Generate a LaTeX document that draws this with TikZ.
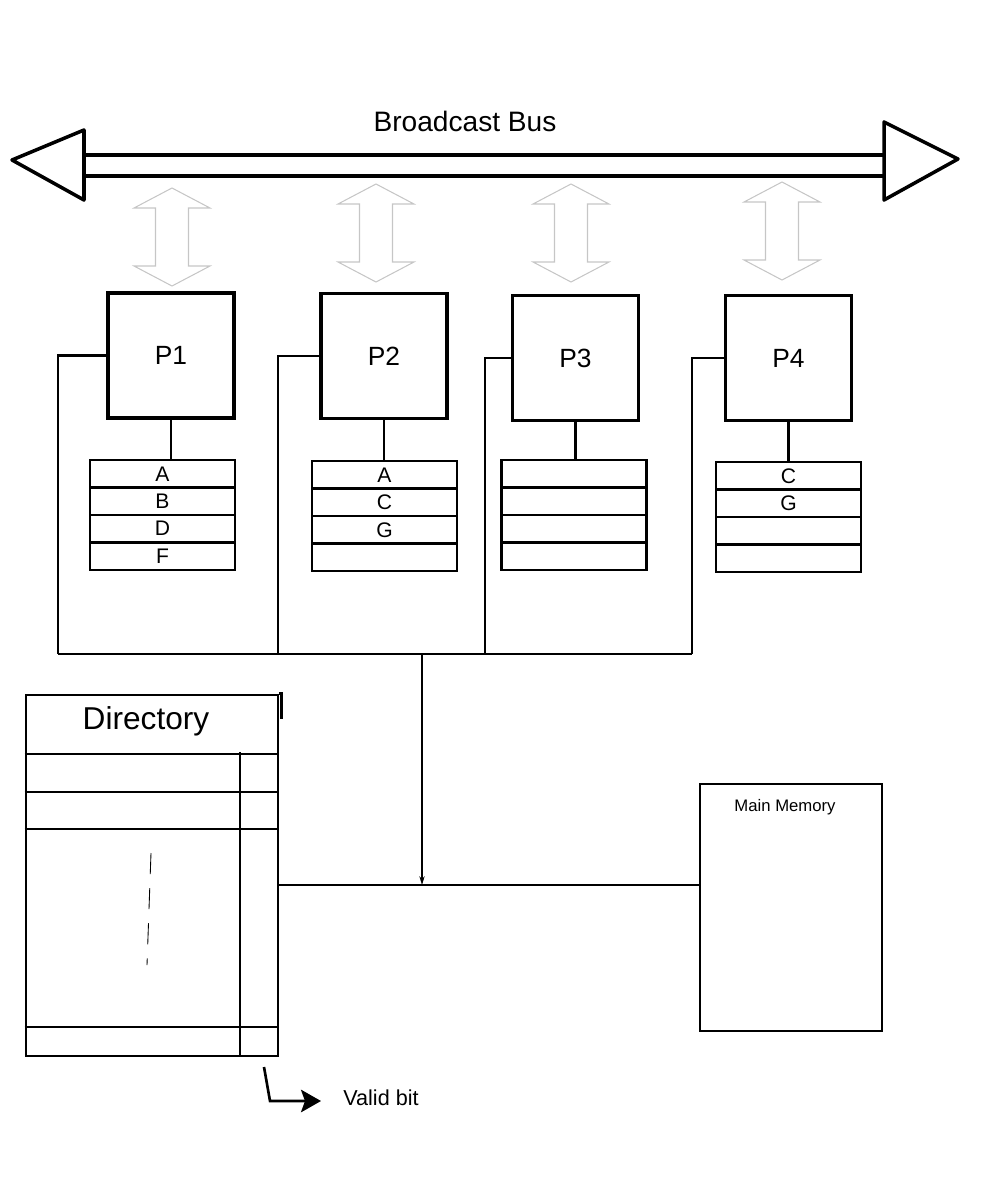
\documentclass[tikz,border=0pt]{standalone}
\usepackage{fontspec}
\setmainfont{Liberation Sans}
\usetikzlibrary{arrows.meta,positioning}

\tikzset{
  proc/.style={draw, line width=1.8pt, minimum width=2.52cm, minimum height=2.5cm,
    font=\fontsize{15}{18}\selectfont},
  cell/.style={draw, line width=1.4pt, minimum width=2.9cm, minimum height=0.55cm,
    inner sep=0pt, outer sep=0pt, font=\fontsize{12}{14}\selectfont},
  wire/.style={line width=1.5pt},
  pics/duplex/.style={code={
    \draw[gray!45, line width=0.6pt] (0,0) -- ++(-38,20) -- ++(21.5,0) -- ++(0,58)
      -- ++(-21.5,0) -- ++(38,20) -- ++(38,-20) -- ++(-21.5,0) -- ++(0,-58)
      -- ++(21.5,0) -- cycle;
  }}
}

\begin{document}
\begin{tikzpicture}[x=0.02cm, y=-0.02cm]
  \useasboundingbox (0,0) rectangle (1000,1183);

  % broadcast bus
  \node[font=\fontsize{16}{19}\selectfont] (bustitle) at (465,121) {Broadcast Bus};
  \draw[line width=2pt] (84,155) -- (884,155);
  \draw[line width=2pt] (84,176) -- (884,176);
  \draw[line width=2pt, line join=round] (84,130) -- (12,160) -- (84,200) -- cycle;
  \draw[line width=2pt, line join=round] (884,122) -- (958,159) -- (884,200) -- cycle;

  % processors
  \node[proc] (p1) at (171,355.5) {P1};
  \node[proc] (p2) at (384,356) {P2};
  \node[proc] (p3) at (575.5,358) {P3};
  \node[proc] (p4) at (788.5,358) {P4};

  \pic at (172,188) {duplex};
  \pic at (376,184) {duplex};
  \pic at (571,184) {duplex};
  \pic at (782,182) {duplex};

  % caches
  \foreach \i/\x/\y/\la/\lb/\lc/\ld in {1/162.5/460/A/B/D/F, 2/384.5/461/A/C/G/,
      3/574/460///, 4/788.5/462/C/G//}{
    \node[cell, anchor=north] (c\i-a) at (\x,\y) {\la};
    \node[cell, below=0pt of c\i-a] (c\i-b) {\lb};
    \node[cell, below=0pt of c\i-b] (c\i-c) {\lc};
    \node[cell, below=0pt of c\i-c] (c\i-d) {\ld};
    \draw[wire] (p\i.south) -- (p\i.south |- c\i-a.north);
  }

  % shared bus
  \coordinate (j1) at (58,654);
  \coordinate (j2) at (278,654);
  \coordinate (j3) at (485,654);
  \coordinate (j4) at (692,654);
  \coordinate (tap) at (422,654);
  \coordinate (mid) at (422,885);
  \foreach \i in {1,...,4}
    \draw[wire] (p\i.west) -| (j\i);
  \draw[wire] (j1) -- (j4);
  \draw[wire, -{Stealth[length=5pt, width=3pt]}] (tap) -- (mid);

  % directory
  \node[draw, wire, minimum width=5.04cm, minimum height=7.22cm] (dir) at (152,875.5) {};
  \node[font=\fontsize{18}{21}\selectfont] (dirtitle) at (146,721) {Directory};
  \foreach \r in {754,792,829,1027}
    \draw[wire] (dir.west |- 0,\r) -- (dir.east |- 0,\r);
  \draw[wire] (240,752) -- (240,0 |- dir.south);
  \draw[wire] (dir.north east) -- ++(2,0) -- ++(0,25);
  \draw[line width=0.5pt, dash pattern=on 12pt off 8pt] (151,853) -- (147,965);

  % main memory
  \node[draw, line width=0.7pt, minimum width=3.64cm, minimum height=4.94cm] (mem) at (791,907.5) {};
  \node[font=\fontsize{9.5}{11}\selectfont] (memtitle) at (785,807) {Main Memory};
  \draw[wire] (dir.east |- mid) -- (mem.west |- mid);

  % valid bit
  \node[font=\fontsize{12.3}{14}\selectfont, anchor=west, inner sep=0pt] (vb) at (343,1098) {Valid bit};
  \coordinate (vbs) at (264,1067);
  \coordinate (vbk) at (270,1101);
  \draw[wire, shorten >=0.44cm, -{Stealth[length=0.4cm, width=0.45cm, inset=0.08cm, fill=black]}]
    (vbs) -- (vbk) -- (vbk -| vb.west);
\end{tikzpicture}
\end{document}
